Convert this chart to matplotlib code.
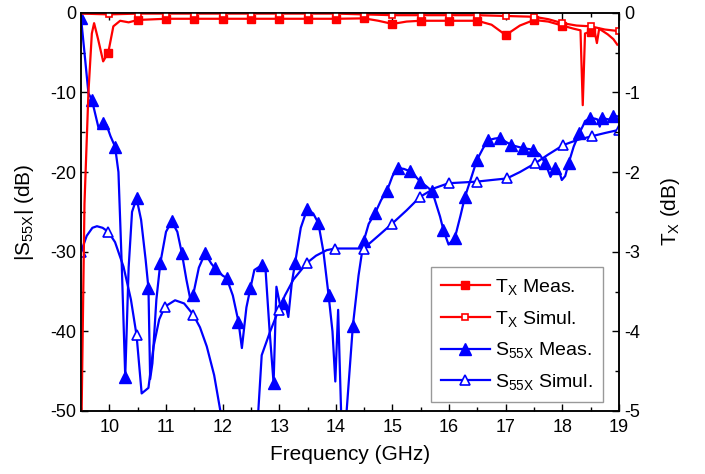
import matplotlib
matplotlib.use("Agg")
import matplotlib.pyplot as plt
from matplotlib.ticker import MultipleLocator

plt.rcParams["font.family"] = ["Liberation Sans", "DejaVu Sans"]
plt.rcParams["mathtext.default"] = "regular"
plt.rcParams["axes.unicode_minus"] = False

# T_X measured (right axis, dB); mk = 1 where a marker is drawn
tx_meas_f = [9.51, 9.56, 9.63, 9.69, 9.73, 9.80, 9.89, 9.98, 10.07, 10.19, 10.34, 10.5,
             11.0, 11.5, 12.0, 12.5, 13.0, 13.5, 14.0, 14.5, 14.75, 15.0, 15.25, 15.5,
             16.0, 16.5, 16.75, 17.0, 17.25, 17.5, 17.75, 18.0, 18.2, 18.32, 18.36, 18.40,
             18.5, 18.56, 18.61, 18.65, 18.8, 18.9, 18.97]
tx_meas_v = [-5.0, -2.4, -1.0, -0.26, -0.13, -0.33, -0.61, -0.50, -0.17, -0.10, -0.12, -0.09,
             -0.075, -0.075, -0.075, -0.075, -0.075, -0.075, -0.075, -0.07, -0.10, -0.14, -0.11, -0.10,
             -0.10, -0.10, -0.15, -0.28, -0.16, -0.09, -0.11, -0.16, -0.20, -0.22, -1.16, -0.26,
             -0.235, -0.20, -0.38, -0.20, -0.27, -0.33, -0.40]
tx_meas_mk = [0, 0, 0, 0, 0, 0, 0, 1, 0, 0, 0, 1,
              1, 1, 1, 1, 1, 1, 1, 1, 0, 1, 0, 1,
              1, 1, 0, 1, 0, 1, 0, 1, 0, 0, 0, 0,
              1, 0, 0, 0, 0, 0, 0]

# T_X simulated
tx_sim_f = [9.5, 10.0, 10.5, 11.0, 11.5, 12.0, 12.5, 13.0, 13.5, 14.0, 14.5, 15.0, 15.5,
            16.0, 16.5, 17.0, 17.5, 17.75, 18.0, 18.25, 18.5, 18.75, 19.0]
tx_sim_v = [-0.01, -0.02, -0.01, -0.01, -0.01, -0.01, -0.01, -0.01, -0.01, -0.01, -0.02, -0.03, -0.03,
            -0.03, -0.03, -0.04, -0.05, -0.08, -0.13, -0.16, -0.17, -0.21, -0.23]
tx_sim_mk = [0, 1, 1, 1, 1, 1, 1, 1, 1, 1, 1, 1, 1,
             1, 1, 1, 1, 0, 1, 0, 1, 0, 1]

# |S55X| measured (left axis, dB)
s_meas_f = [9.50, 9.56, 9.63, 9.69, 9.76, 9.81, 9.89, 9.95, 10.02, 10.10, 10.16, 10.22, 10.28,
            10.34, 10.40, 10.48, 10.56, 10.64, 10.69, 10.72, 10.76, 10.83, 10.90, 11.00, 11.10,
            11.20, 11.28, 11.36, 11.43, 11.48, 11.58, 11.69, 11.80, 11.87, 12.00, 12.07, 12.18,
            12.28, 12.34, 12.42, 12.49, 12.56, 12.69, 12.76, 12.83, 12.90, 12.95, 13.02, 13.07,
            13.12, 13.16, 13.22, 13.28, 13.38, 13.49, 13.60, 13.69, 13.78, 13.87, 13.94, 13.99,
            14.04, 14.10, 14.17, 14.19, 14.30, 14.40, 14.49, 14.58, 14.69, 14.80, 14.90, 15.00,
            15.10, 15.20, 15.31, 15.40, 15.49, 15.60, 15.70, 15.84, 15.90, 15.99, 16.10, 16.20,
            16.28, 16.40, 16.49, 16.60, 16.69, 16.80, 16.90, 17.00, 17.10, 17.20, 17.31, 17.40,
            17.49, 17.60, 17.70, 17.79, 17.87, 17.93, 17.99, 18.05, 18.11, 18.20, 18.30, 18.37,
            18.40, 18.49, 18.58, 18.62, 18.66, 18.70, 18.82, 18.90, 19.00]
s_meas_v = [-0.7, -5.0, -10.1, -10.9, -13.0, -14.5, -13.9, -14.1, -15.5, -16.8, -20.0, -32.0, -45.7,
            -32.0, -25.0, -23.3, -26.0, -31.0, -34.6, -46.0, -44.0, -36.0, -31.4, -27.5, -26.2,
            -27.5, -30.2, -33.5, -36.0, -35.4, -32.0, -30.2, -31.5, -32.1, -33.0, -33.3, -35.5,
            -38.8, -42.1, -37.0, -34.6, -32.3, -31.7, -32.5, -40.0, -46.5, -34.4, -36.9, -36.5,
            -37.0, -38.2, -34.0, -31.4, -27.0, -24.7, -25.2, -26.4, -30.0, -35.4, -40.0, -46.3,
            -37.3, -52.0, -52.0, -50.0, -39.3, -33.0, -28.7, -26.5, -25.2, -23.5, -22.4, -20.5,
            -19.5, -19.6, -19.9, -20.5, -21.2, -21.8, -22.4, -25.6, -27.3, -29.1, -28.3, -25.5,
            -23.1, -20.5, -18.5, -17.0, -16.0, -15.8, -15.7, -16.2, -16.6, -16.8, -17.0, -17.1,
            -17.2, -17.8, -18.9, -20.6, -19.5, -19.6, -21.0, -20.5, -18.9, -16.8, -15.1, -14.1,
            -13.6, -13.2, -13.3, -13.4, -14.3, -13.2, -13.4, -13.0, -13.0]
s_meas_mk = [1, 0, 0, 1, 0, 0, 1, 0, 0, 1, 0, 0, 1,
             0, 0, 1, 0, 0, 1, 0, 0, 0, 1, 0, 1,
             0, 1, 0, 0, 1, 0, 1, 0, 1, 0, 1, 0,
             1, 0, 0, 1, 0, 1, 0, 0, 1, 0, 0, 1,
             0, 0, 0, 1, 0, 1, 0, 1, 0, 1, 0, 0,
             0, 0, 0, 0, 1, 0, 1, 0, 1, 0, 1, 0,
             1, 0, 1, 0, 1, 0, 1, 0, 1, 0, 1, 0,
             1, 0, 1, 0, 1, 0, 1, 0, 1, 0, 1, 0,
             1, 0, 1, 0, 1, 0, 0, 0, 1, 0, 1, 0,
             0, 1, 0, 0, 0, 1, 0, 1, 0]

# |S55X| simulated
s_sim_f = [9.50, 9.60, 9.70, 9.78, 9.88, 9.98, 10.10, 10.25, 10.38, 10.48, 10.57, 10.69, 10.78,
           10.88, 10.98, 11.16, 11.32, 11.48, 11.60, 11.72, 11.85, 11.96, 12.05, 12.55, 12.63,
           12.69, 12.84, 12.99, 13.10, 13.25, 13.49, 13.65, 13.84, 13.99, 14.20, 14.49, 14.75,
           14.99, 15.25, 15.49, 15.75, 15.99, 16.25, 16.49, 16.75, 17.02, 17.25, 17.52, 17.75,
           18.02, 18.25, 18.52, 18.75, 19.00]
s_sim_v = [-30.0, -28.0, -27.0, -26.8, -27.0, -27.5, -28.8, -31.9, -36.0, -40.5, -47.8, -47.1, -41.9,
           -38.5, -36.9, -36.1, -36.5, -37.9, -39.5, -41.9, -45.5, -50.0, -53.0, -53.0, -50.0,
           -43.0, -40.0, -37.3, -35.5, -33.5, -31.4, -30.5, -29.8, -29.6, -29.6, -29.6, -28.0,
           -26.5, -24.8, -23.1, -22.0, -21.4, -21.3, -21.2, -21.0, -20.8, -20.0, -18.9, -17.8,
           -16.6, -16.0, -15.5, -15.1, -14.7]
s_sim_mk = [1, 0, 0, 0, 0, 1, 0, 0, 0, 1, 0, 0, 0,
            0, 1, 0, 0, 1, 0, 0, 0, 0, 0, 0, 0,
            0, 0, 1, 0, 0, 1, 0, 0, 1, 0, 1, 0,
            1, 0, 1, 0, 1, 0, 1, 0, 1, 0, 1, 0,
            1, 0, 1, 0, 1]


def marks(mk):
    return [i for i, m in enumerate(mk) if m]


fig = plt.figure(figsize=(7.05, 4.74), dpi=100)
ax1 = fig.add_axes([0.115, 0.133, 0.763, 0.840])
ax2 = ax1.twinx()

red = "#ff0000"
blue = "#0000ff"

l3, = ax1.plot(s_meas_f, s_meas_v, color=blue, lw=1.6, marker="^", ms=8,
               markevery=marks(s_meas_mk), label=r"S$_{55X}$ Meas.")
l4, = ax1.plot(s_sim_f, s_sim_v, color=blue, lw=1.6, marker="^", ms=7, mfc="white",
               mec=blue, mew=1.2, markevery=marks(s_sim_mk), label=r"S$_{55X}$ Simul.")
l1, = ax2.plot(tx_meas_f, tx_meas_v, color=red, lw=1.6, marker="s", ms=6,
               markevery=marks(tx_meas_mk), label=r"T$_X$ Meas.")
l2, = ax2.plot(tx_sim_f, tx_sim_v, color=red, lw=1.6, marker="s", ms=5, mfc="white",
               mec=red, mew=1.2, markevery=marks(tx_sim_mk), label=r"T$_X$ Simul.")

ax1.set_xlim(9.5, 19)
ax1.set_ylim(-50, 0)
ax2.set_ylim(-5, 0)

ax1.xaxis.set_major_locator(MultipleLocator(1))
ax1.xaxis.set_minor_locator(MultipleLocator(0.5))
ax1.yaxis.set_major_locator(MultipleLocator(10))
ax1.yaxis.set_minor_locator(MultipleLocator(5))
ax2.yaxis.set_major_locator(MultipleLocator(1))
ax2.yaxis.set_minor_locator(MultipleLocator(0.5))

ax1.tick_params(axis="both", which="both", direction="in", labelsize=13, width=1.0)
ax1.tick_params(axis="x", which="both", top=True, pad=6)
ax1.tick_params(which="major", length=5)
ax1.tick_params(which="minor", length=3)
ax2.tick_params(axis="y", which="both", direction="in", labelsize=13, width=1.0)
ax2.tick_params(which="major", length=5)
ax2.tick_params(which="minor", length=3)

for ax in (ax1, ax2):
    for sp in ax.spines.values():
        sp.set_linewidth(1.1)

ax1.set_xlabel("Frequency (GHz)", fontsize=15, labelpad=6)
ax1.set_ylabel(r"|S$_{55X}$| (dB)", fontsize=15, labelpad=10)
ax2.set_ylabel(r"T$_X$ (dB)", fontsize=15, labelpad=14)

leg = ax2.legend(handles=[l1, l2, l3, l4], loc="lower right",
                 bbox_to_anchor=(0.970, 0.023), borderaxespad=0, fontsize=14,
                 fancybox=False, framealpha=1, edgecolor="#999999",
                 handlelength=2.5, labelspacing=0.6, handletextpad=0.3,
                 borderpad=0.5)
leg.get_frame().set_linewidth(1.0)

fig.savefig("out.png", dpi=100)
